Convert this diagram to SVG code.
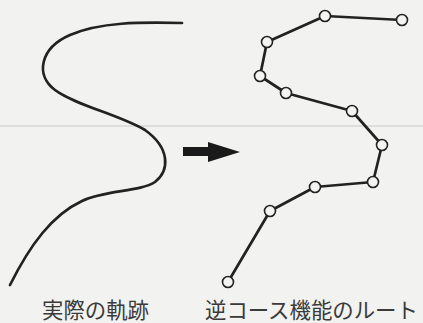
<svg xmlns="http://www.w3.org/2000/svg" width="423" height="323" viewBox="0 0 423 323">
<style>
.trk{fill:none;stroke:#222;stroke-width:2.7;stroke-linecap:round;stroke-linejoin:round}
.node{fill:#f4f4f2;stroke:#222;stroke-width:1.6}
.lbl{font-family:"Noto Sans CJK JP","Noto Sans",sans-serif;font-size:21.4px;fill:#3a3a3a}
</style>
<rect width="423" height="323" fill="#f2f2f0"/>
<line x1="0" y1="126" x2="423" y2="126" stroke="#dedede" stroke-width="2"/>
<g id="actual-track">
<path class="trk" d="M182,23 C140,22 100,22 70,35 C40,48 35,75 55,90 C75,105 120,115 145,130 C170,148 170,170 155,182 C140,192 105,190 82,201 C52,215 30,245 10,285"/>
</g>
<g id="arrow">
<path d="M183,147 H208 V142 L240,152 L208,162 V156 H183 Z" fill="#1a1a1a"/>
</g>
<g id="connectors">
<polyline class="trk" points="402,20 325,16 267,42 260,76 286,93 352,111 382,145 373,182 315,187 270,211 228,282"/>
</g>
<g id="route-nodes">
<circle id="p1" class="node" cx="402" cy="20" r="5.5"/>
<circle id="p2" class="node" cx="325" cy="16" r="5.5"/>
<circle id="p3" class="node" cx="267" cy="42" r="5.5"/>
<circle id="p4" class="node" cx="260" cy="76" r="5.5"/>
<circle id="p5" class="node" cx="286" cy="93" r="5.5"/>
<circle id="p6" class="node" cx="352" cy="111" r="5.5"/>
<circle id="p7" class="node" cx="382" cy="145" r="5.5"/>
<circle id="p8" class="node" cx="373" cy="182" r="5.5"/>
<circle id="p9" class="node" cx="315" cy="187" r="5.5"/>
<circle id="p10" class="node" cx="270" cy="211" r="5.5"/>
<circle id="p11" class="node" cx="228" cy="282" r="5.5"/>
</g>
<g id="labels">
<text class="lbl" x="42" y="318">実際の軌跡</text>
<text class="lbl" x="205" y="318">逆コース機能のルート</text>
</g>
</svg>
